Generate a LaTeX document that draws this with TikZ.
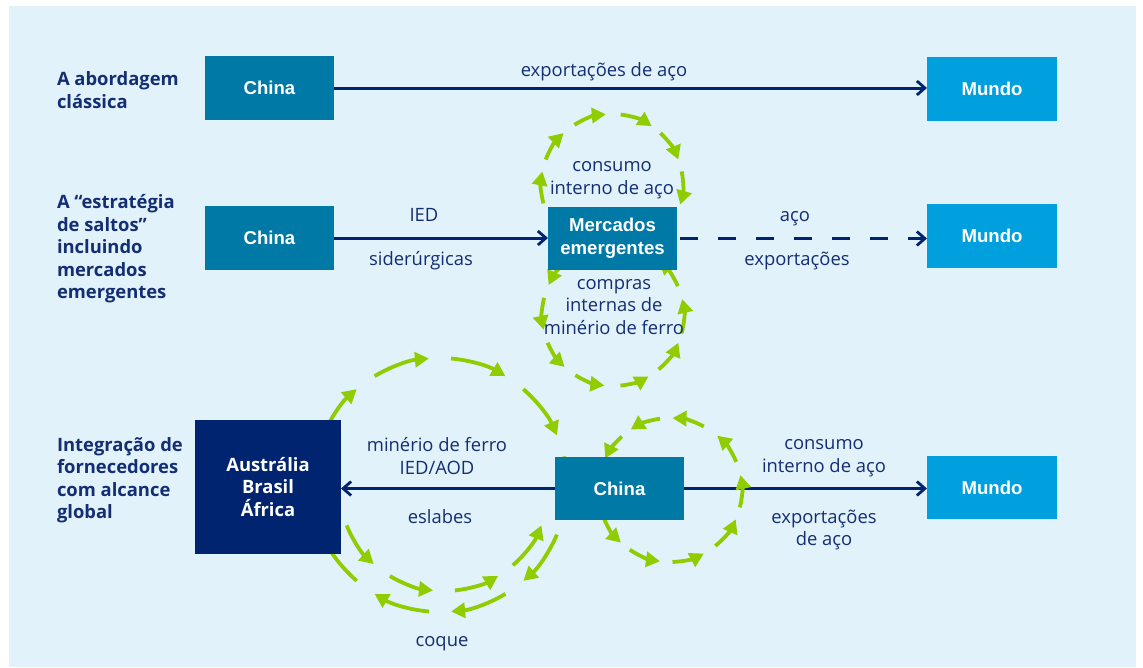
\documentclass[tikz,border=0pt]{standalone}
\usepackage{fontspec}
\usetikzlibrary{arrows.meta}
\newfontfamily\humfont{Open Sans}
\newfontfamily\boxfont{Liberation Sans}
\definecolor{panelbg}{RGB}{225,242,250}
\definecolor{navy}{RGB}{0,36,112}
\definecolor{txtnavy}{RGB}{20,46,115}
\definecolor{chinablue}{RGB}{0,121,167}
\definecolor{mundoblue}{RGB}{0,160,223}
\definecolor{limegreen}{RGB}{143,204,0}
\pgfdeclarelayer{bg}
\pgfdeclarelayer{mid}
\pgfsetlayers{bg,mid,main}

\begin{document}
\begin{tikzpicture}[x=1pt,y=-1pt,
  every node/.style={inner sep=0pt, outer sep=0pt},
  box/.style={rectangle, fill=chinablue, text=white, minimum width=129pt, minimum height=64pt,
    font=\boxfont\bfseries\fontsize{18.6}{23}\selectfont, align=center},
  mundobox/.style={box, fill=mundoblue, minimum width=130pt},
  supbox/.style={box, fill=navy, minimum width=146pt, minimum height=134pt,
    font=\humfont\bfseries\fontsize{18.4}{22.5}\selectfont},
  rowlabel/.style={anchor=west, align=left, text=txtnavy,
    font=\humfont\bfseries\fontsize{18.4}{22.5}\selectfont},
  flowlabel/.style={align=center, text=txtnavy,
    font=\humfont\fontsize{18.4}{22.5}\selectfont},
  flow/.style={draw=navy, line width=3pt,
    -{Straight Barb[length=8pt,width=14pt,line width=2.8pt]}},
  greenloop/.style={draw=limegreen, line width=3.8pt,
    -{Triangle[length=14pt,width=15pt]}},
]
\useasboundingbox (0,0) rectangle (1143,667);

% page and panel
\begin{pgfonlayer}{bg}
  \fill[white] (0,0) rectangle (1143,667);
  \fill[panelbg] (9,6) rectangle (1136,667);
\end{pgfonlayer}

% boxes
\node[box] (chinaA) at (269.5,88) {China};
\node[mundobox] (mundoA) at (992,89) {Mundo};
\node[box] (chinaB) at (269.5,238) {China};
\node[box, minimum height=63pt] (merc) at (612.5,238.5) {Mercados\\emergentes};
\node[mundobox] (mundoB) at (992,236) {Mundo};
\node[supbox] (aus) at (268,487) {Austrália\\Brasil\\África};
\node[box, minimum height=63pt] (chinaC) at (619.5,488.5) {China};
\node[mundobox, minimum height=63pt] (mundoC) at (992,487.5) {Mundo};

% row labels
\node[rowlabel] (lab1) at (57,90) {A abordagem\\clássica};
\node[rowlabel] (lab2) at (57,249) {A “estratégia\\de saltos”\\incluindo\\mercados\\emergentes};
\node[rowlabel] (lab3) at (57,480) {Integração de\\fornecedores\\com alcance\\global};

% flow labels
\node[flowlabel] (t1) at (604,72) {exportações de aço};
\node[flowlabel] (t2) at (424,215) {IED};
\node[flowlabel] (t3) at (421,261) {siderúrgicas};
\node[flowlabel] (t4) at (612,180) {consumo\\interno de aço};
\node[flowlabel] (t5) at (614,307) {compras\\internas de\\minério de ferro};
\node[flowlabel] (t6) at (795,219) {aço};
\node[flowlabel] (t7) at (797,261) {exportações};
\node[flowlabel] (t8) at (437,456) {minério de ferro\\IED/AOD};
\node[flowlabel] (t9) at (440,517) {eslabes};
\node[flowlabel] (t10) at (442,644) {coque};
\node[flowlabel] (t11) at (824,458) {consumo\\interno de aço};
\node[flowlabel] (t12) at (824,530) {exportações\\de aço};

% cycle centres
\coordinate (loopA) at (612,185);
\coordinate (loopB) at (613,315);
\coordinate (loopC) at (440,485);
\coordinate (loopCin) at (444,486);
\coordinate (loopD) at (670,490);

\begin{pgfonlayer}{mid}
  % trade flows
  \draw[flow] (chinaA.east) -- (chinaA.east -| mundoA.west);
  \draw[flow] (chinaB.east) -- (chinaB.east -| merc.west);
  \draw[flow, dash pattern=on 18pt off 20pt, dash phase=35pt] (merc.east) -- (merc.east -| mundoB.west);
  \draw[flow] (chinaC.west) -- (chinaC.west -| aus.east);
  \draw[flow] (chinaC.east) -- (chinaC.east -| mundoC.west);

  % domestic steel consumption loop
  \foreach \s/\e in {165/191, 201/227, 238/265, 277/304, 313/339, 349/376}
    \draw[greenloop] (loopA) ++(\s:71) arc[start angle=\s, end angle=\e, radius=71];
  % domestic ore purchase loop
  \foreach \s/\e in {230/205, 194/168, 157/133, 122/97, 84/60, 50/23, 15/-13, -24/-50}
    \draw[greenloop] (loopB) ++(\s:71) arc[start angle=\s, end angle=\e, radius=71];
  % supplier loop, outer ring
  \foreach \s in {203,239,275,311,347,23,59,95,131,167}
    \draw[greenloop] (loopC) ++(\s:127) arc[start angle=\s, end angle=\s+26, radius=127];
  % supplier loop, inner return arcs
  \foreach \s/\e in {158/132, 121/96, 84/59, 49/22}
    \draw[greenloop] (loopCin) ++(\s:105) arc[start angle=\s, end angle=\e, radius=105];
  % China domestic loop
  \foreach \s/\e in {262/237, 228/206, 192/167, 159/133, 124/98, 88/62, 51/24, 14/-12, -23/-49, -62/-88}
    \draw[greenloop] (loopD) ++(\s:72) arc[start angle=\s, end angle=\e, radius=72];
\end{pgfonlayer}
\end{tikzpicture}
\end{document}
